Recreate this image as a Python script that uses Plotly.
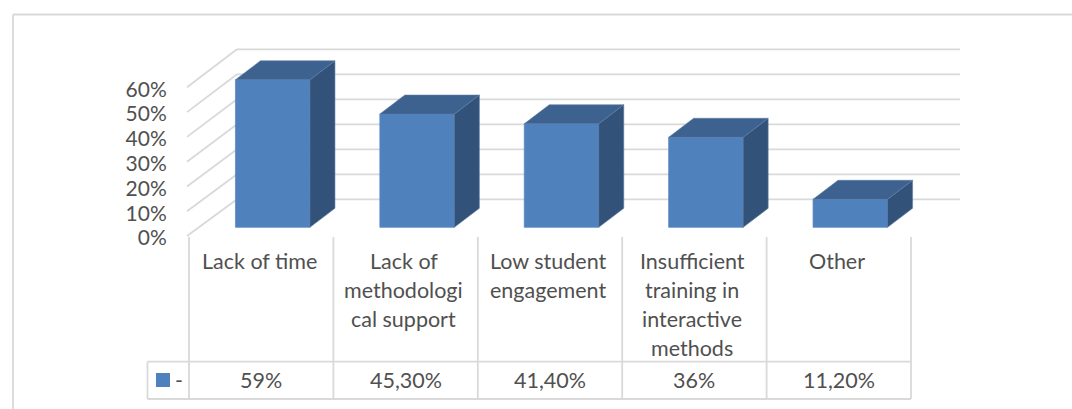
import plotly.graph_objects as go

# ---- data ----
category_lines = [
    ["Lack of time"],
    ["Lack of", "methodologi", "cal support"],
    ["Low student", "engagement"],
    ["Insufficient", "training in", "interactive", "methods"],
    ["Other"],
]
values = [59, 45.3, 41.4, 36, 11.2]
table_labels = ["59%", "45,30%", "41,40%", "36%", "11,20%"]
axis_ticks = [0, 10, 20, 30, 40, 50, 60]
axis_labels = ["0%", "10%", "20%", "30%", "40%", "50%", "60%"]
series_name = "-"

# ---- page geometry ----
W, H = 1072, 409
CAT_W = 144.4
X0 = 189.0
FONT = "Lato"
TXT = "#505050"
GRID = "#d9d9d9"
FRONT, SIDE, TOP = "#4f81bd", "#325279", "#3d6290"
EDGE = "#5f8ac2"
EDGE_DARK = "#5a7ba6"


def xu(px):
    return (px - X0) / CAT_W


def py(px):
    return 1 - px / H


LABEL_ZERO = 238.0
FRONT_ZERO, FRONT_SCALE = 236.0, 2.478
BAR_ZERO, BAR_SCALE = 227.3, 2.5
BACK_ZERO = 199.3

y1_range = [(LABEL_ZERO - H) / FRONT_SCALE, LABEL_ZERO / FRONT_SCALE]
y2_range = [(BAR_ZERO - H) / BAR_SCALE, BAR_ZERO / BAR_SCALE]


def y1u(px):
    return (LABEL_ZERO - px) / FRONT_SCALE


def y2u(px):
    return (BAR_ZERO - px) / BAR_SCALE


fig = go.Figure()

BAR_W = 74.5 / CAT_W
BAR_SHIFT = 11.5 / CAT_W
DX = 25 / CAT_W
DY = 19 / BAR_SCALE
centers = [i + 0.5 + BAR_SHIFT for i in range(len(values))]

fig.add_trace(go.Bar(x=centers, y=values, width=BAR_W, yaxis="y2", name=series_name,
                     marker=dict(color=FRONT, line=dict(color=EDGE, width=0.8)), showlegend=False))

for c, v in zip(centers, values):
    l, r = c - BAR_W / 2, c + BAR_W / 2
    fig.add_trace(go.Scatter(x=[r, r + DX, r + DX, r, r], y=[0, DY, v + DY, v, 0], yaxis="y2",
                             mode="lines", fill="toself", fillcolor=SIDE,
                             line=dict(color=EDGE_DARK, width=0.6), showlegend=False, hoverinfo="skip"))
    fig.add_trace(go.Scatter(x=[l, r, r + DX, l + DX, l], y=[v, v, v + DY, v + DY, v], yaxis="y2",
                             mode="lines", fill="toself", fillcolor=TOP,
                             line=dict(color=EDGE_DARK, width=0.6), showlegend=False, hoverinfo="skip"))

# legend key of the data table
fig.add_trace(go.Scatter(x=[xu(163)], y=[py(380)], yaxis="y3", mode="markers",
                         marker=dict(symbol="square", size=14, color=FRONT),
                         showlegend=False, hoverinfo="skip"))

shapes = []


def line(x0, y0, x1, y1, yref="paper", width=1.8, color=GRID):
    shapes.append(dict(type="line", xref="x", yref=yref, x0=x0, x1=x1, y0=y0, y1=y1,
                       layer="below", line=dict(color=color, width=width)))


# outer frame
line(xu(13), py(14.5), xu(W), py(14.5))
line(xu(13), py(14.5), xu(13), py(H))
# back wall gridlines and side wall diagonals
for t in axis_ticks:
    back = y2u(BACK_ZERO) + t
    line(xu(237), back, xu(960), back, yref="y2")
    line(xu(187), y1u(FRONT_ZERO - t * FRONT_SCALE), xu(237), y1u(BACK_ZERO - t * BAR_SCALE), yref="y")
# table rules
for i in range(len(values) + 1):
    line(i, py(237), i, py(399))
line(xu(147.5), py(361.7), len(values), py(361.7))
line(xu(147.5), py(399), len(values), py(399))
line(xu(147.5), py(361.7), xu(147.5), py(399))

annotations = []


def text(x, ypx, s):
    annotations.append(dict(x=x, y=py(ypx), xref="x", yref="paper", text=s, showarrow=False,
                            xanchor="center", yanchor="middle",
                            font=dict(family=FONT, size=21.5, color=TXT)))


CAT_SHIFT = 2 / CAT_W
for i, rows in enumerate(category_lines):
    for j, row in enumerate(rows):
        text(i + 0.5 - CAT_SHIFT, 260.5 + 29.2 * j, row)
    text(i + 0.5, 380, table_labels[i])
text(xu(178.5), 380, series_name)

fig.update_layout(
    width=W, height=H, margin=dict(l=0, r=0, t=0, b=0), autosize=False,
    paper_bgcolor="white", plot_bgcolor="rgba(0,0,0,0)", showlegend=False,
    xaxis=dict(range=[xu(0), xu(W)], visible=False, domain=[0, 1]),
    yaxis=dict(range=y1_range, domain=[0, 1], anchor="free", position=X0 / W,
               tickvals=axis_ticks, ticktext=axis_labels, ticks="outside", ticklen=18,
               tickcolor="rgba(0,0,0,0)", showgrid=False, zeroline=False, showline=False,
               tickfont=dict(family=FONT, size=21, color=TXT)),
    yaxis2=dict(range=y2_range, overlaying="y", visible=False, showgrid=False, zeroline=False),
    yaxis3=dict(range=[0, 1], overlaying="y", visible=False, showgrid=False, zeroline=False),
    shapes=shapes, annotations=annotations,
)
fig.write_html("out.html", config=dict(displayModeBar=False),
               post_script="document.body.style.margin='0';document.body.style.overflow='hidden';")
